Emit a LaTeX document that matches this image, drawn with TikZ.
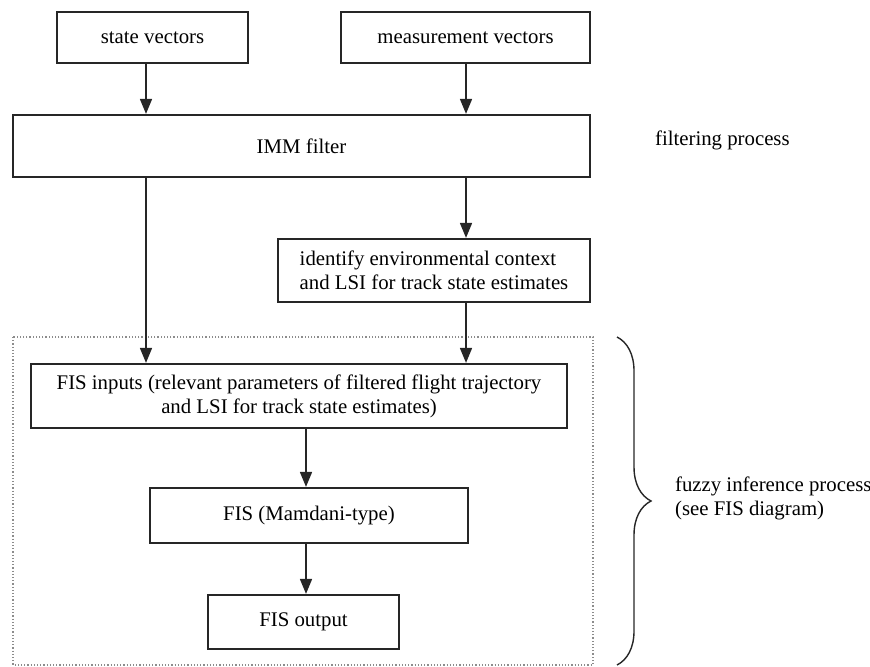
\documentclass[tikz,border=0pt]{standalone}
\usepackage{fontspec}
\setmainfont{Liberation Serif}
\usetikzlibrary{arrows.meta,decorations.pathreplacing}

\begin{document}
\begin{tikzpicture}[
    x=0.5pt, y=-0.5pt,
    font=\fontsize{10.4}{12}\selectfont,
    box/.style={draw=black!85, line width=1.1pt, inner sep=0pt, align=center},
    flow/.style={-{Triangle[length=7.5pt, width=6pt]}, black!85, line width=0.8pt},
    frame/.style={draw=black!45, densely dotted, line width=0.6pt},
    note/.style={anchor=west, align=left},
]
\useasboundingbox (0,0) rectangle (870,667);

% ---- filtering process ----
\node[box, minimum width=95.5pt, minimum height=25.5pt] (sv) at (152.5,37.5) {state vectors};
\node[box, minimum width=124.5pt, minimum height=25.5pt] (mv) at (465.5,37.5) {measurement vectors};
\node[box, minimum width=288.5pt, minimum height=31pt] (imm) at (301.5,146) {IMM filter};
\node[box, minimum width=156pt, minimum height=31.5pt, align=left] (env) at (434,270.5)
    {identify environmental context\\and LSI for track state estimates};
\node[note] (filt) at (648,140) {filtering process};

\coordinate (xa) at (146,0);
\coordinate (xb) at (466,0);
\coordinate (xc) at (306,0);
\draw[flow] (sv.south -| xa) -- (imm.north -| xa);
\draw[flow] (mv.south -| xb) -- (imm.north -| xb);
\draw[flow] (imm.south -| xb) -- (env.north -| xb);

% ---- fuzzy inference process ----
\draw[frame] (13,337) rectangle (593,665);
\node[box, minimum width=268pt, minimum height=32pt] (fisin) at (299,396)
    {FIS inputs (relevant parameters of filtered flight trajectory\\and LSI for track state estimates)};
\node[box, minimum width=159pt, minimum height=27.5pt] (fis) at (309,515.5) {FIS (Mamdani-type)};
\node[box, minimum width=95.5pt, minimum height=27pt] (fisout) at (303.5,622) {FIS output};

\draw[flow] (imm.south -| xa) -- (fisin.north -| xa);
\draw[flow] (env.south -| xb) -- (fisin.north -| xb);
\draw[flow] (fisin.south -| xc) -- (fis.north -| xc);
\draw[flow] (fis.south -| xc) -- (fisout.north -| xc);

\coordinate (bt) at (617,337);
\coordinate (bb) at (617,665);
\draw[black!85, line width=0.7pt, decorate, decoration={brace, amplitude=17pt}] (bt) -- (bb);
\node[note] (fuzzy) at (668,498) {fuzzy inference process\\(see FIS diagram)};
\end{tikzpicture}
\end{document}
